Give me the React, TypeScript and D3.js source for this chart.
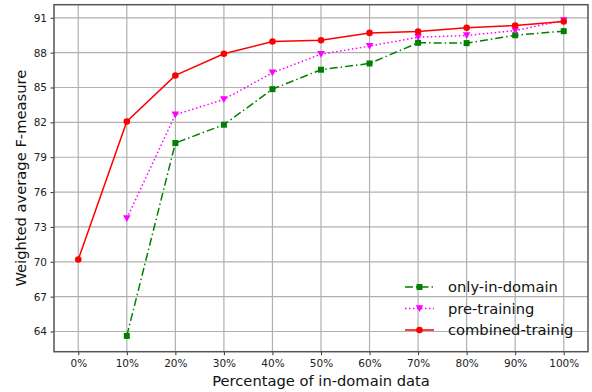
import React, { useEffect, useRef } from "react";
import * as d3 from "d3";

const percents = [0, 10, 20, 30, 40, 50, 60, 70, 80, 90, 100];
const yTicks = [64, 67, 70, 73, 76, 79, 82, 85, 88, 91];

// null = no point at that percentage
const onlyInDomain = [null, 63.62, 80.22, 81.8, 84.86, 86.53, 87.07, 88.85, 88.82, 89.5, 89.85];
const preTraining = [null, 73.74, 82.66, 83.98, 86.27, 87.87, 88.56, 89.33, 89.48, 89.9, 90.77];
const combinedTraining = [70.2, 82.08, 86.04, 87.9, 88.96, 89.07, 89.7, 89.82, 90.14, 90.34, 90.68];

const seriesNames = ["only-in-domain", "pre-training", "combined-trainig"];

const App = () => {
  const svgRef = useRef<SVGSVGElement>(null);

  useEffect(() => {
    const width = 592;
    const height = 392;
    const margin = { top: 4.7, right: 4, bottom: 40.3, left: 54 };
    const font = "DejaVu Sans, sans-serif";

    const svg = d3.select(svgRef.current);
    svg.selectAll("*").remove();

    const innerW = width - margin.left - margin.right;
    const innerH = height - margin.top - margin.bottom;

    const series = [
      { name: seriesNames[0], values: onlyInDomain, color: "#008000", dash: "8,3,1.5,3", marker: "square" },
      { name: seriesNames[1], values: preTraining, color: "#ff00ff", dash: "1.5,2.5", marker: "triangle" },
      { name: seriesNames[2], values: combinedTraining, color: "#ff0000", dash: null, marker: "circle" },
    ];

    // matplotlib-style 5% autoscale margins
    const all = series.flatMap((s) => s.values.filter((v) => v != null)) as number[];
    const [lo, hi] = d3.extent(all) as [number, number];
    const pad = (hi - lo) * 0.05;

    const x = d3.scaleLinear().domain([-5, 105]).range([0, innerW]);
    const y = d3.scaleLinear().domain([lo - pad, hi + pad]).range([innerH, 0]);

    const g = svg.append("g").attr("transform", `translate(${margin.left},${margin.top})`);

    // grid
    g.append("g")
      .selectAll("line")
      .data(percents)
      .enter()
      .append("line")
      .attr("x1", (d) => x(d))
      .attr("x2", (d) => x(d))
      .attr("y1", 0)
      .attr("y2", innerH)
      .attr("stroke", "#b0b0b0")
      .attr("stroke-width", 1.2);
    g.append("g")
      .selectAll("line")
      .data(yTicks)
      .enter()
      .append("line")
      .attr("x1", 0)
      .attr("x2", innerW)
      .attr("y1", (d) => y(d))
      .attr("y2", (d) => y(d))
      .attr("stroke", "#b0b0b0")
      .attr("stroke-width", 1.2);

    const drawMarker = (sel: any, kind: string, color: string) => {
      if (kind === "square") {
        sel.append("rect").attr("x", -3).attr("y", -3).attr("width", 6).attr("height", 6).attr("fill", color);
      } else if (kind === "triangle") {
        sel.append("path").attr("d", "M-3.8,-3.2L3.8,-3.2L0,3.6Z").attr("fill", color);
      } else {
        sel.append("circle").attr("r", 3.3).attr("fill", color);
      }
    };

    const line = d3
      .line<number | null>()
      .defined((d) => d != null)
      .x((_, i) => x(percents[i]))
      .y((d) => y(d as number));

    series.forEach((s) => {
      g.append("path")
        .datum(s.values)
        .attr("fill", "none")
        .attr("stroke", s.color)
        .attr("stroke-width", 1.5)
        .attr("stroke-dasharray", s.dash)
        .attr("d", line);

      s.values.forEach((v, i) => {
        if (v == null) return;
        const m = g.append("g").attr("transform", `translate(${x(percents[i])},${y(v)})`);
        drawMarker(m, s.marker, s.color);
      });
    });

    // axes
    const xAxis = g
      .append("g")
      .attr("transform", `translate(0,${innerH})`)
      .call(d3.axisBottom(x).tickValues(percents).tickFormat((d) => `${d}%`).tickSizeOuter(0).tickSize(3.5).tickPadding(4));
    const yAxis = g
      .append("g")
      .call(d3.axisLeft(y).tickValues(yTicks).tickFormat(d3.format("d")).tickSizeOuter(0).tickSize(3.5).tickPadding(3.5));
    [xAxis, yAxis].forEach((a) => {
      a.select(".domain").remove();
      a.selectAll("text").attr("font-family", font).attr("font-size", 10.5).attr("fill", "#222");
      a.selectAll("line").attr("stroke", "#333").attr("stroke-width", 1);
    });

    // frame
    g.append("rect")
      .attr("width", innerW)
      .attr("height", innerH)
      .attr("fill", "none")
      .attr("stroke", "#555")
      .attr("stroke-width", 1.5);

    // axis titles
    svg
      .append("text")
      .attr("x", margin.left + innerW / 2)
      .attr("y", 386)
      .attr("text-anchor", "middle")
      .attr("font-family", font)
      .attr("font-size", 14.7)
      .attr("fill", "#111")
      .text("Percentage of in-domain data");
    svg
      .append("text")
      .attr("transform", `translate(26,${margin.top + innerH / 2}) rotate(-90)`)
      .attr("text-anchor", "middle")
      .attr("font-family", font)
      .attr("font-size", 14.7)
      .attr("fill", "#111")
      .text("Weighted average F-measure");

    // legend (no frame)
    const legend = svg.append("g").attr("transform", "translate(405,287)");
    series.forEach((s, i) => {
      const row = legend.append("g").attr("transform", `translate(0,${i * 21.5})`);
      row.append("line")
        .attr("x1", 0)
        .attr("x2", 29)
        .attr("stroke", s.color)
        .attr("stroke-width", 1.5)
        .attr("stroke-dasharray", s.dash);
      drawMarker(row.append("g").attr("transform", "translate(14.5,0)"), s.marker, s.color);
      row.append("text")
        .attr("x", 43)
        .attr("dy", "0.35em")
        .attr("font-family", font)
        .attr("font-size", 14.7)
        .attr("fill", "#111")
        .text(s.name);
    });
  }, []);

  return (
    <svg
      ref={svgRef}
      width={592}
      height={392}
      style={{ position: "absolute", left: 0, top: 0, background: "#fff" }}
    />
  );
};

export default App;
